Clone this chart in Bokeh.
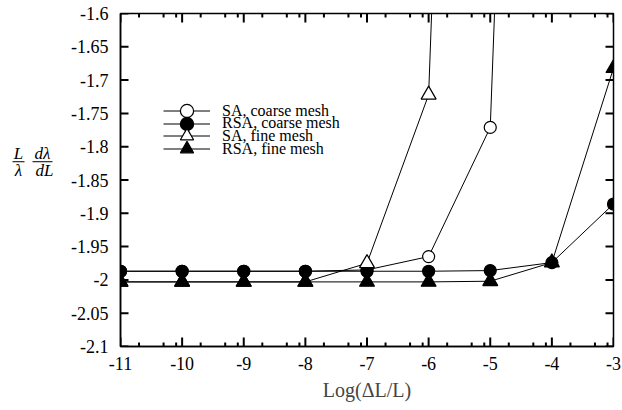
from bokeh.plotting import figure
from bokeh.layouts import row
from bokeh.models import FixedTicker, CustomJSTickFormatter, Legend, LegendItem
from bokeh.core.properties import value
from bokeh.embed import file_html
from bokeh.resources import INLINE
import numpy as np

# Log10 of the relative step size
log_step = [-11, -10, -9, -8, -7, -6, -5, -4, -3]

# (L/lambda) dlambda/dL for each scheme
sa_coarse = [-1.987, -1.987, -1.987, -1.987, -1.985, -1.965, -1.771, 0.70]
rsa_coarse = [-1.987, -1.987, -1.987, -1.987, -1.987, -1.987, -1.986, -1.974, -1.886]
sa_fine = [-2.003, -2.003, -2.003, -2.003, -1.975, -1.722, 0.80]
rsa_fine = [-2.003, -2.003, -2.003, -2.003, -2.003, -2.003, -2.002, -1.974, -1.682]

series_labels = ["SA, coarse mesh", "RSA, coarse mesh", "SA, fine mesh", "RSA, fine mesh"]

x_ticks = [-11, -10, -9, -8, -7, -6, -5, -4, -3]
y_ticks = [-2.1, -2.05, -2.0, -1.95, -1.9, -1.85, -1.8, -1.75, -1.7, -1.65, -1.6]

# pieces of the vertical-axis quantity (two stacked fractions)
ylab_num = ["L", "d\u03bb"]
ylab_den = ["\u03bb", "dL"]

SERIF = "Liberation Serif"
LAB_W = 60
X0, X1 = -11, -3
Y0, Y1 = -2.1, -1.6
FRAME_W, FRAME_H = 493, 333   # plotting area in pixels

p = figure(width=622 - LAB_W, height=410, x_range=(X0, X1), y_range=(Y0, Y1),
           output_backend="svg", toolbar_location=None,
           min_border_left=120 - LAB_W, min_border_right=9, min_border_top=13,
           min_border_bottom=64)
p.grid.visible = False
p.outline_line_color = "black"
p.outline_line_width = 1.5

minor_x = [d + np.log10(k) for d in x_ticks[:-1] for k in (2, 5, 8)]
show_fmt = CustomJSTickFormatter(code="return tick.toString()")

for ax, ticks in ((p.xaxis[0], x_ticks), (p.yaxis[0], y_ticks)):
    ax.ticker = FixedTicker(ticks=ticks)
    ax.formatter = show_fmt
    ax.axis_line_color = "black"
    ax.axis_line_width = 1.5
    ax.major_tick_line_color = None
    ax.minor_tick_line_color = None
    ax.major_tick_in = 0
    ax.major_tick_out = 0
    ax.major_label_text_font = SERIF
    ax.major_label_text_font_size = "18px"
    ax.major_label_text_color = "black"

p.xaxis.major_label_standoff = 10
p.xaxis.axis_label = "Log(\u0394L/L)"
p.xaxis.axis_label_text_font = SERIF
p.xaxis.axis_label_text_font_style = "normal"
p.xaxis.axis_label_text_font_size = "20px"
p.xaxis.axis_label_standoff = 6
p.yaxis.major_label_standoff = 12


def tick_path(pos, start, stop, along_x):
    """One broken polyline holding a set of inward tick marks."""
    a, b = [], []
    for t in pos:
        if along_x:
            a += [t, t, np.nan]
            b += [start, stop, np.nan]
        else:
            a += [start, stop, np.nan]
            b += [t, t, np.nan]
    return a, b


# Inward tick marks on all four sides of the box
dx_major = (X1 - X0) * 8 / FRAME_W
dy_major = (Y1 - Y0) * 9 / FRAME_H
dy_minor = (Y1 - Y0) * 4 / FRAME_H
paths = [
    tick_path(y_ticks, X0, X0 + dx_major, False),
    tick_path(y_ticks, X1 - dx_major, X1, False),
    tick_path(x_ticks, Y0, Y0 + dy_major, True),
    tick_path(x_ticks, Y1 - dy_major, Y1, True),
    tick_path(minor_x, Y0, Y0 + dy_minor, True),
    tick_path(minor_x, Y1 - dy_minor, Y1, True),
]
for a, b in paths:
    p.line(a, b, line_color="black", line_width=2)

# Four series: line plus marker
specs = [
    (sa_coarse, "circle", 12, "white"),
    (rsa_coarse, "circle", 12, "black"),
    (sa_fine, "triangle", 15, "white"),
    (rsa_fine, "triangle", 15, "black"),
]
for i, ((ys, marker, size, fill), name) in enumerate(zip(specs, series_labels)):
    xs = log_step[:len(ys)]
    ln = p.line(xs, ys, line_color="black", line_width=1)
    sc = p.scatter(xs, ys, marker=marker, size=size, fill_color=fill,
                   line_color="black", line_width=1.2)
    # one legend per row so that the key markers keep a readable size
    leg = Legend(items=[LegendItem(label=name, renderers=[ln, sc])],
                 location=(43, 219 - 12.7 * i), glyph_width=47, glyph_height=33,
                 padding=0, margin=0, spacing=0, label_standoff=12,
                 label_height=12, label_text_line_height=0.8,
                 label_text_font=SERIF, label_text_font_size="16px",
                 label_text_color="black", border_line_alpha=0,
                 background_fill_alpha=0)
    p.add_layout(leg, "center")

# Side panel holding the vertical-axis quantity
q = figure(width=LAB_W, height=410, x_range=(0, LAB_W), y_range=(410, 0),
           output_backend="svg", toolbar_location=None, min_border=0,
           x_axis_location=None, y_axis_location=None, outline_line_color=None)
q.grid.visible = False
frac_x = [18, 42]
bar_half = [6, 10]
text_style = dict(text_font=value(SERIF), text_font_style="italic", text_font_size="17px",
                  text_align="center", text_baseline="middle", text_color="black")
q.text(x=frac_x, y=[172, 172], text=ylab_num, **text_style)
q.text(x=[18, 44], y=[193, 193], text=ylab_den, **text_style)
q.segment(x0=[x - h for x, h in zip(frac_x, bar_half)], y0=[182.5, 182.5],
          x1=[x + h for x, h in zip(frac_x, bar_half)], y1=[182.5, 182.5],
          line_color="black", line_width=1)

layout = row(q, p, spacing=0)
open("out.html", "w").write(file_html(layout, INLINE))
